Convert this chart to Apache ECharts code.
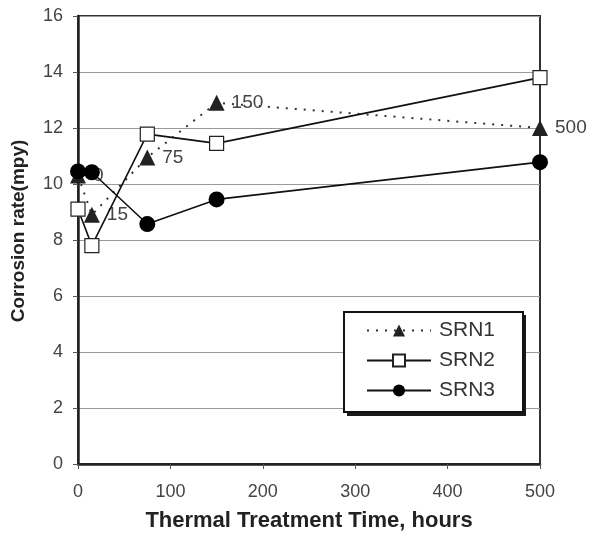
<!DOCTYPE html>
<html><head><meta charset="utf-8">
<script src="https://cdn.jsdelivr.net/npm/echarts@6/dist/echarts.min.js"></script>
<style>html,body{margin:0;padding:0;background:#fff}#c{width:596px;height:537px}</style>
</head><body><div id="c"></div>
<script>
const hours = [0, 15, 75, 150, 500];
const srn1 = [10.3, 8.9, 10.95, 12.9, 12.0];
const srn2 = [9.1, 7.8, 11.78, 11.45, 13.8];
const srn3 = [10.45, 10.42, 8.57, 9.45, 10.78];
const srn1Labels = ['0', '15', '75', '150', '500'];
const yTicks = [0, 2, 4, 6, 8, 10, 12, 14, 16];
const xTicks = [0, 100, 200, 300, 400, 500];

const pair = (vals) => hours.map((h, i) => [h, vals[i]]);
const font = 'Liberation Sans, Arial, sans-serif';
const chart = echarts.init(document.getElementById('c'));
chart.setOption({
  animation: false,
  backgroundColor: '#fff',
  grid: { left: 78, right: 56, top: 16, bottom: 72, show: true, borderColor: '#333', borderWidth: 2 },
  graphic: [{
    type: 'rect', left: 347, top: 315, z: 5,
    shape: { width: 179, height: 101 },
    style: { fill: '#1a1a1a' }
  }],
  xAxis: {
    type: 'value', min: xTicks[0], max: xTicks[xTicks.length - 1], interval: 100,
    name: 'Thermal Treatment Time, hours', nameLocation: 'middle', nameGap: 46,
    nameTextStyle: { fontFamily: font, fontWeight: 'bold', fontSize: 22, color: '#222' },
    axisLine: { lineStyle: { color: '#222', width: 2.5 } },
    axisTick: { show: true, length: 5, lineStyle: { color: '#555' } },
    axisLabel: { fontFamily: font, fontSize: 18, color: '#444', margin: 19 },
    splitLine: { show: false }
  },
  yAxis: {
    type: 'value', min: yTicks[0], max: yTicks[yTicks.length - 1], interval: 2,
    name: 'Corrosion rate(mpy)', nameLocation: 'middle', nameGap: 50,
    nameTextStyle: { fontFamily: font, fontWeight: 'bold', fontSize: 19, color: '#222', padding: [0, 0, 0, 18] },
    axisLine: { show: true, lineStyle: { color: '#222', width: 2.5 } },
    axisTick: { show: true, length: 5, lineStyle: { color: '#555' } },
    axisLabel: { fontFamily: font, fontSize: 18, color: '#444', margin: 15 },
    splitLine: { show: true, lineStyle: { color: '#999', width: 1 } }
  },
  legend: {
    orient: 'vertical', left: 344, top: 312, z: 10,
    padding: [8, 28, 11, 22], itemGap: 9, itemWidth: 64, itemHeight: 15,
    backgroundColor: '#fff', borderColor: '#111', borderWidth: 2,
    textStyle: { fontFamily: font, fontSize: 21, color: '#333', padding: [0, 0, 0, 3] },
    data: ['SRN1', 'SRN2', 'SRN3']
  },
  series: [
    {
      name: 'SRN1', type: 'line', data: pair(srn1),
      symbol: 'triangle', symbolSize: 16,
      itemStyle: { color: '#222' },
      lineStyle: { color: '#333', type: [2, 7], width: 2 },
      label: {
        show: true, position: 'right', distance: 7,
        fontFamily: font, fontSize: 19, color: '#444',
        formatter: (p) => srn1Labels[p.dataIndex]
      },
      z: 2
    },
    {
      name: 'SRN2', type: 'line', data: pair(srn2),
      symbol: 'rect', symbolSize: 14,
      itemStyle: { color: '#fff', borderColor: '#222', borderWidth: 1.2 },
      lineStyle: { color: '#111', width: 1.6 },
      z: 3
    },
    {
      name: 'SRN3', type: 'line', data: pair(srn3),
      symbol: 'circle', symbolSize: 16,
      itemStyle: { color: '#000' },
      lineStyle: { color: '#111', width: 1.6 },
      z: 4
    }
  ]
});
</script></body></html>
